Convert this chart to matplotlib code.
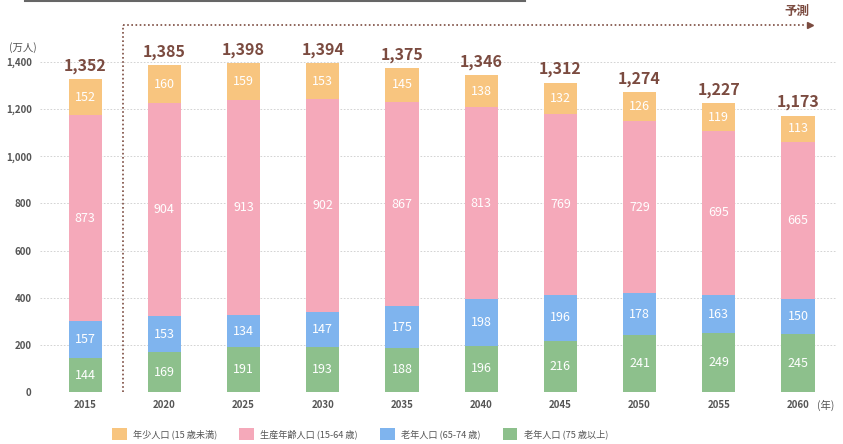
import matplotlib
matplotlib.use("Agg")
import matplotlib.pyplot as plt
from matplotlib.lines import Line2D
from matplotlib.patches import Patch
import numpy as np

plt.rcParams['font.family'] = ['Noto Sans CJK JP', 'DejaVu Sans']

years = ["2015", "2020", "2025", "2030", "2035", "2040", "2045", "2050", "2055", "2060"]
age75 = [144, 169, 191, 193, 188, 196, 216, 241, 249, 245]
age65 = [157, 153, 134, 147, 175, 198, 196, 178, 163, 150]
age15 = [873, 904, 913, 902, 867, 813, 769, 729, 695, 665]
age0 = [152, 160, 159, 153, 145, 138, 132, 126, 119, 113]
totals = [1352, 1385, 1398, 1394, 1375, 1346, 1312, 1274, 1227, 1173]
labels = ["年少人口 (15 歳未満)", "生産年齢人口 (15-64 歳)", "老年人口 (65-74 歳)", "老年人口 (75 歳以上)"]
yticks = [0, 200, 400, 600, 800, 1000, 1200, 1400]

c_or = "#F8C57F"
c_pk = "#F5A9BA"
c_bl = "#7FB4EE"
c_gr = "#8DC08C"
brown = "#7B4B40"

W, H = 843, 444
fig = plt.figure(figsize=(W / 100, H / 100), dpi=100)
left, right, top, bottom = 40, 836, 62, 392
ax = fig.add_axes([left / W, 1 - bottom / H, (right - left) / W, (bottom - top) / H])

x = np.arange(len(years))
bw = 0.42
segs = [(age75, c_gr), (age65, c_bl), (age15, c_pk), (age0, c_or)]
base = np.zeros(len(years))
for vals, col in segs:
    v = np.array(vals, dtype=float)
    ax.bar(x, v, bw, bottom=base, color=col, edgecolor="none", zorder=3)
    for xi, b, vi in zip(x, base, v):
        ax.text(xi, b + vi / 2, f"{int(vi)}", ha="center", va="center",
                color="white", fontsize=9, zorder=4)
    base = base + v

for xi, b, t in zip(x, base, totals):
    ax.text(xi, b + 22, f"{t:,}", ha="center", va="bottom", color=brown,
            fontsize=11.5, fontweight="bold", zorder=4)

ax.set_xlim(-0.57, 9.48)
ax.set_ylim(0, 1400)
ax.set_yticks(yticks)
ax.set_yticklabels([f"{v:,}" for v in yticks], fontsize=7, color="#555555", fontweight="bold")
ax.set_xticks(x)
ax.set_xticklabels(years, fontsize=7, color="#555555", fontweight="bold")
ax.tick_params(length=0, pad=6)
for s in ax.spines.values():
    s.set_visible(False)
ax.grid(axis="y", color="#cccccc", linestyle=(0, (2, 2)), linewidth=0.6, zorder=0)


def fx(px):
    return px / W


def fy(py):
    return 1 - py / H


fig.text(fx(9), fy(48), "(万人)", fontsize=7.5, color="#555555", ha="left", va="center")
fig.text(fx(817), fy(405), "(年)", fontsize=7.5, color="#555555", ha="left", va="center")

# forecast bracket
fig.add_artist(Line2D([fx(123), fx(123)], [fy(392), fy(25)], color=brown,
                      linestyle=(0, (1, 1.5)), linewidth=1.2))
fig.add_artist(Line2D([fx(123), fx(806)], [fy(25), fy(25)], color=brown,
                      linestyle=(0, (1, 1.5)), linewidth=1.2))
fig.add_artist(Line2D([fx(810)], [fy(25)], marker=">", markersize=4, color=brown,
                      linestyle="none"))
fig.text(fx(797), fy(11), "予測", ha="center", va="center", fontsize=9,
         color=brown, fontweight="bold")

# top rule line
fig.add_artist(Line2D([fx(25), fx(525)], [fy(1), fy(1)], color="#666666", linewidth=1.5))

handles = [Patch(facecolor=c, edgecolor="none") for c in [c_or, c_pk, c_bl, c_gr]]
fig.legend(handles, labels, loc="center", bbox_to_anchor=(fx(360), fy(434)), ncol=4,
           frameon=False, fontsize=6.6, handlelength=1.6, handleheight=1.5,
           columnspacing=2.4, handletextpad=0.7, labelcolor="#555555")

fig.savefig("out.png", dpi=100)
